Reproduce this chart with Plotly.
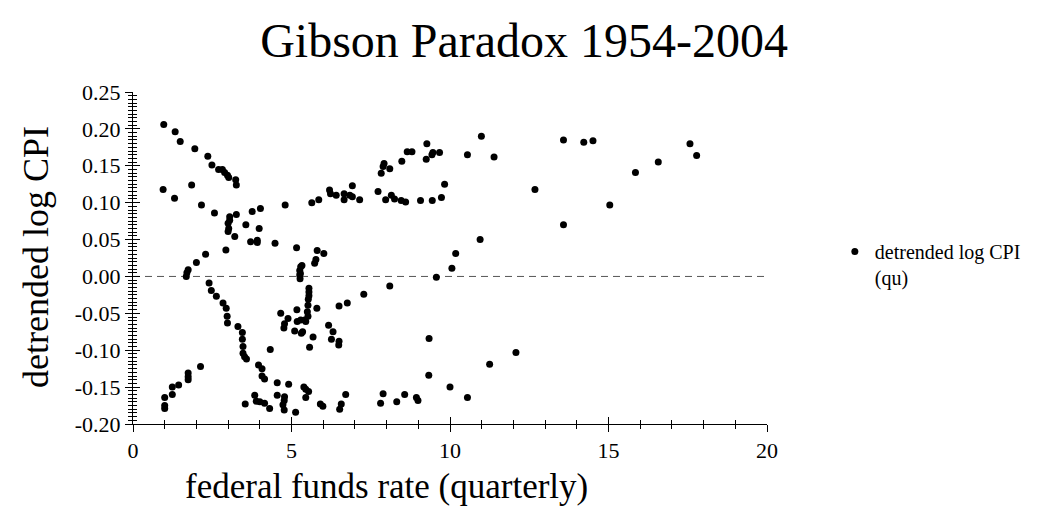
import plotly.graph_objects as go

# ---- data (federal funds rate, detrended log CPI) ----
fed_funds = [
    0.97, 1.33, 1.49, 1.95, 2.36, 2.49, 2.70, 2.82, 2.89, 2.98, 3.02, 3.24, 3.26,
    0.95, 1.31, 1.85, 2.16, 2.57, 3.05, 3.05, 3.00, 3.02, 3.00, 3.26, 3.21, 2.93,
    3.56, 3.76, 4.02, 3.98, 3.71, 3.92, 3.92, 4.48, 4.80, 5.16, 5.64, 5.86, 6.20,
    6.23, 6.41, 6.66, 6.66, 6.84, 6.92, 6.92, 7.15, 7.73, 7.83, 7.89, 7.92, 8.10,
    7.97, 8.15, 8.25, 8.46, 8.60, 8.48, 8.65, 8.80, 9.07, 9.27, 9.25, 9.43, 9.46,
    9.67, 9.44, 9.73, 9.83, 10.55, 10.99, 11.39, 12.68, 13.58, 13.58, 10.95, 10.18,
    10.06, 9.57, 5.81, 6.02, 5.77, 5.73, 2.29, 2.00, 1.74, 1.70, 1.68, 5.29, 5.33,
    5.26, 14.22, 14.51, 17.57, 17.78, 16.57, 15.85, 15.04,
    1.00, 1.00, 1.00, 1.24, 1.24, 1.44, 1.74, 1.74, 1.74, 2.13, 2.40, 2.47, 2.63,
    2.84, 2.94, 2.97, 2.98, 3.31, 3.45, 3.45, 3.47, 3.47, 3.52, 3.58, 4.33, 3.96,
    4.07, 4.07, 4.15, 3.54, 3.84, 3.89, 4.00, 4.15, 4.31, 4.55, 4.55, 4.78, 4.77,
    4.73, 4.77, 4.91, 5.13, 4.66, 4.78, 4.76, 4.89, 5.10, 5.17, 5.18, 5.29, 5.42,
    5.31, 5.35, 5.45, 5.50, 5.52, 5.53, 5.55, 5.55, 5.55, 5.52, 5.57, 5.68, 5.80,
    5.28, 5.26, 5.27, 5.39, 5.45, 5.54, 5.45, 5.91, 5.99, 6.17, 6.26, 6.31, 6.50,
    6.49, 6.50, 6.76, 7.28, 8.10, 6.71, 6.57, 6.52, 7.89, 7.81, 8.32, 8.57, 8.94,
    8.99, 9.34, 9.33, 10.00, 10.55, 11.25, 12.08,
]
detrended_cpi = [
    0.206, 0.196, 0.183, 0.173, 0.163, 0.151, 0.145, 0.145, 0.141, 0.137, 0.134, 0.131, 0.124,
    0.118, 0.106, 0.124, 0.097, 0.086, 0.081, 0.076, 0.072, 0.065, 0.061, 0.084, 0.054, 0.036,
    0.070, 0.088, 0.092, 0.065, 0.047, 0.049, 0.046, 0.045, 0.097, 0.039, 0.100, 0.104, 0.117,
    0.112, 0.110, 0.112, 0.104, 0.110, 0.123, 0.108, 0.104, 0.115, 0.140, 0.149, 0.153, 0.146,
    0.104, 0.110, 0.105, 0.103, 0.101, 0.156, 0.169, 0.169, 0.103, 0.180, 0.159, 0.165, 0.168,
    0.168, 0.103, 0.107, 0.125, 0.165, 0.190, 0.162, 0.118, 0.185, 0.070, 0.050, 0.031,
    0.011, -0.001, 0.035, 0.031, 0.023, 0.018, 0.030, 0.019, 0.009, 0.005, 0.000, 0.013, 0.015,
    0.008, 0.182, 0.184, 0.180, 0.164, 0.155, 0.141, 0.097,
    -0.175, -0.179, -0.164, -0.160, -0.150, -0.147, -0.131, -0.136, -0.140, -0.122, -0.009, -0.019, -0.027,
    -0.036, -0.043, -0.054, -0.063, -0.068, -0.076, -0.085, -0.095, -0.104, -0.109, -0.112, -0.099, -0.120,
    -0.125, -0.135, -0.139, -0.173, -0.161, -0.169, -0.170, -0.172, -0.179, -0.144, -0.161, -0.163, -0.168,
    -0.174, -0.181, -0.146, -0.184, -0.050, -0.064, -0.070, -0.057, -0.074, -0.045, -0.061, -0.059, -0.059,
    -0.077, -0.075, -0.061, -0.048, -0.039, -0.031, -0.021, -0.016, -0.026, -0.054, -0.096, -0.082, -0.043,
    0.004, 0.002, -0.003, -0.150, -0.153, -0.156, -0.164, -0.173, -0.176, -0.066, -0.085, -0.075, -0.088,
    -0.093, -0.040, -0.036, -0.024, -0.013, -0.160, -0.173, -0.180, -0.159, -0.172, -0.170, -0.160, -0.164,
    -0.168, -0.084, -0.134, -0.150, -0.164, -0.119, -0.103,
]

x_range = [0, 20]
y_range = [-0.20, 0.25]
x_tick_vals = [0, 5, 10, 15, 20]
x_tick_text = ["0", "5", "10", "15", "20"]
y_tick_vals = [-0.20, -0.15, -0.10, -0.05, 0.00, 0.05, 0.10, 0.15, 0.20, 0.25]
y_tick_text = ["-0.20", "-0.15", "-0.10", "-0.05", "0.00", "0.05", "0.10", "0.15", "0.20", "0.25"]
zero_line_x = [0, 20]
zero_line_y = [0, 0]

title_text = "Gibson Paradox 1954-2004"
x_title = "federal funds rate (quarterly)"
y_title = "detrended log CPI"
series_name = "detrended log CPI<br>(qu)"

FONT = "Liberation Serif"

fig = go.Figure()

fig.add_trace(go.Scatter(
    x=zero_line_x, y=zero_line_y, mode="lines",
    line=dict(color="#555555", width=1, dash="7px,5px"),
    showlegend=False, hoverinfo="skip",
))

fig.add_trace(go.Scatter(
    x=fed_funds, y=detrended_cpi, mode="markers", name=series_name,
    marker=dict(color="black", size=7, line=dict(width=0)),
))

# invisible helper trace so the overlay axes (inside half of the crossing ticks) are drawn
fig.add_trace(go.Scatter(x=[None], y=[None], xaxis="x2", yaxis="y2",
                         showlegend=False, hoverinfo="skip"))

axis_common = dict(showgrid=False, zeroline=False, tickcolor="black",
                   tickfont=dict(family=FONT, size=22, color="black"))

fig.update_layout(
    width=1049, height=506,
    paper_bgcolor="white", plot_bgcolor="white",
    margin=dict(l=125, r=290, t=84, b=90),
    font=dict(family=FONT, color="black"),
    title=dict(text=title_text, font=dict(family=FONT, size=48, color="black"),
               x=0.492, xanchor="center", xref="container",
               y=0.937, yanchor="middle", yref="container"),
    xaxis=dict(range=x_range, tickvals=x_tick_vals, ticktext=x_tick_text,
               ticks="outside", ticklen=7, tickwidth=1,
               showline=True, linecolor="black", linewidth=1,
               minor=dict(dtick=1, tick0=0, ticks="outside", ticklen=4,
                          tickcolor="black", tickwidth=1),
               **axis_common),
    xaxis2=dict(range=x_range, overlaying="x", anchor="y", side="bottom",
                tickvals=x_tick_vals, ticks="inside", ticklen=7, tickwidth=1,
                showticklabels=False, showline=False, showgrid=False, zeroline=False,
                tickcolor="black",
                minor=dict(dtick=1, tick0=0, ticks="inside", ticklen=4,
                           tickcolor="black", tickwidth=1)),
    yaxis=dict(range=y_range, tickvals=y_tick_vals, ticktext=y_tick_text,
               ticks="outside", ticklen=7, tickwidth=1,
               showline=True, linecolor="black", linewidth=1,
               minor=dict(dtick=0.005, tick0=0, ticks="outside", ticklen=4,
                          tickcolor="black", tickwidth=1),
               **axis_common),
    yaxis2=dict(range=y_range, overlaying="y", anchor="x", side="left",
                tickvals=y_tick_vals, ticks="inside", ticklen=7, tickwidth=1,
                showticklabels=False, showline=False, showgrid=False, zeroline=False,
                tickcolor="black",
                minor=dict(dtick=0.005, tick0=0, ticks="inside", ticklen=4,
                           tickcolor="black", tickwidth=1)),
    showlegend=True,
    legend=dict(x=1.107, xanchor="left", y=0.578, yanchor="top",
                valign="top", bgcolor="rgba(0,0,0,0)",
                font=dict(family=FONT, size=20, color="black")),
    annotations=[
        dict(text=x_title, xref="paper", yref="paper", x=0.400, y=-0.188,
             xanchor="center", yanchor="middle", showarrow=False,
             font=dict(family=FONT, size=35, color="black")),
        dict(text=y_title, xref="paper", yref="paper", x=-0.153, y=0.503,
             xanchor="center", yanchor="middle", textangle=-90, showarrow=False,
             font=dict(family=FONT, size=36, color="black")),
    ],
)

fig.write_html("out.html")
